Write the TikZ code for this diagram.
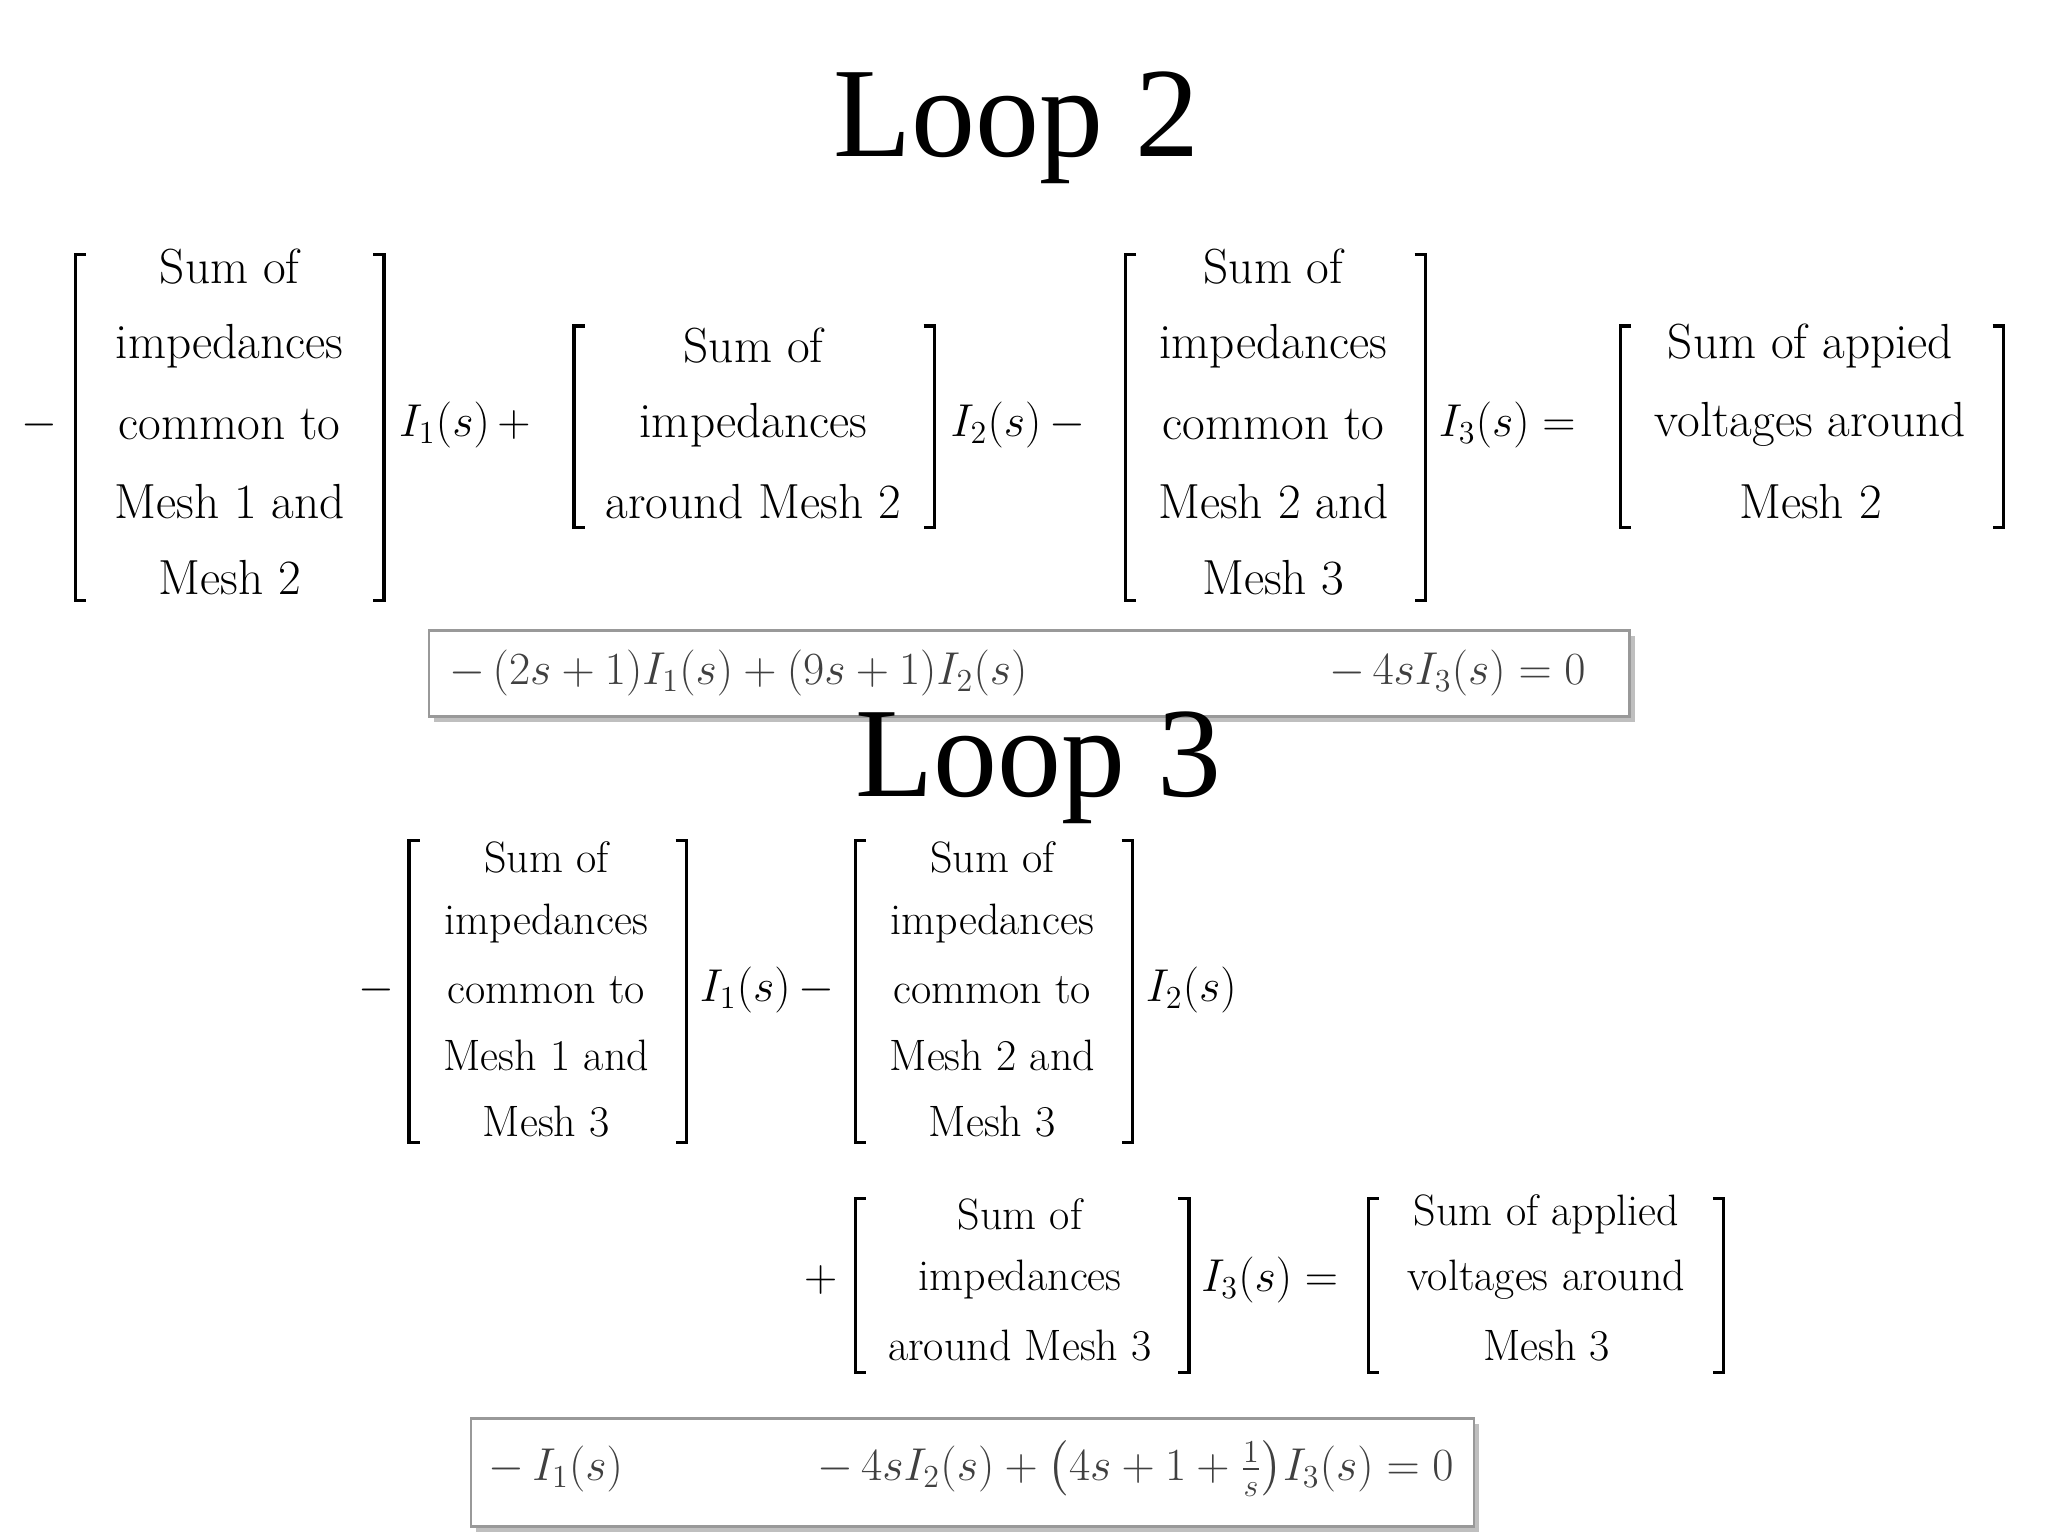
\documentclass[tikz,border=0pt]{standalone}
\usepackage{amsmath}
\usepackage{fontspec}
\newfontfamily\titlefont{Liberation Serif}
\begin{document}
\begin{tikzpicture}[x=0.495pt,y=-0.495pt,
  txtA/.style={font=\fontsize{18.5}{22}\selectfont, inner sep=0pt},
  txtB/.style={font=\fontsize{16.5}{20}\selectfont, inner sep=0pt},
  mth/.style={font=\fontsize{18.5}{22}\selectfont, inner sep=0pt},
  mthB/.style={font=\fontsize{16.5}{20}\selectfont, inner sep=0pt},
  eq/.style={font=\fontsize{17.5}{22}\selectfont, inner sep=0pt, text=black!75},
  ttl/.style={font=\titlefont\fontsize{48}{56}\selectfont, inner sep=0pt},
  brk/.style={line width=1.2pt},
  box/.style={draw=black!40, line width=1pt, fill=white}]
\useasboundingbox (0,0) rectangle (1552,1164);
\newcommand{\lbr}[3]{\draw[brk] (#1+8,#2) -- (#1,#2) -- (#1,#3) -- (#1+8,#3);}
\newcommand{\rbr}[3]{\draw[brk] (#1-8,#2) -- (#1,#2) -- (#1,#3) -- (#1-8,#3);}
% Loop 2
\node[ttl] (t2) at (770,97) {Loop 2};
\node[mth] (m1) at (30,322) {$-$};
\lbr{57}{193}{455}\rbr{291}{193}{455}
\node[txtA] (a1) at (174,202) {Sum of};
\node[txtA] (a2) at (174,262) {impedances};
\node[txtA] (a3) at (174,322) {common to};
\node[txtA] (a4) at (174,380) {Mesh 1 and};
\node[txtA] (a5) at (174,438) {Mesh 2};
\node[mth,anchor=west] (i1) at (302,322) {$I_1(s)\,+$};
\lbr{435}{247}{400}\rbr{708}{247}{400}
\node[txtA] (b1) at (571,262) {Sum of};
\node[txtA] (b2) at (571,322) {impedances};
\node[txtA] (b3) at (571,380) {around Mesh 2};
\node[mth,anchor=west] (i2) at (720,322) {$I_2(s)\,-$};
\lbr{853}{193}{455}\rbr{1080}{193}{455}
\node[txtA] (c1) at (965,202) {Sum of};
\node[txtA] (c2) at (965,262) {impedances};
\node[txtA] (c3) at (965,322) {common to};
\node[txtA] (c4) at (965,380) {Mesh 2 and};
\node[txtA] (c5) at (965,438) {Mesh 3};
\node[mth,anchor=west] (i3) at (1090,322) {$I_3(s)=$};
\lbr{1228}{247}{400}\rbr{1518}{247}{400}
\node[txtA] (d1) at (1372,262) {Sum of appied};
\node[txtA] (d2) at (1372,322) {voltages around};
\node[txtA] (d3) at (1372,380) {Mesh 2};
% box 1
\fill[black!25] (329,482) rectangle (1239,547);
\draw[box] (325,478) rectangle (1235,543);
\node[eq,anchor=west] (e1) at (340,510) {$-\,(2s+1)I_1(s)+(9s+1)I_2(s)$};
\node[eq,anchor=east] (e2) at (1202,510) {$-\,4sI_3(s)=0$};
% Loop 3
\node[ttl] (t3) at (787,582) {Loop 3};
\node[mthB] (m2) at (285,750) {$-$};
\lbr{310}{637}{866}\rbr{520}{637}{866}
\node[txtB] (f1) at (414,650) {Sum of};
\node[txtB] (f2) at (414,700) {impedances};
\node[txtB] (f3) at (414,750) {common to};
\node[txtB] (f4) at (414,800) {Mesh 1 and};
\node[txtB] (f5) at (414,850) {Mesh 3};
\node[mthB,anchor=west] (j1) at (530,750) {$I_1(s)\,-$};
\lbr{648}{637}{866}\rbr{858}{637}{866}
\node[txtB] (g1) at (752,650) {Sum of};
\node[txtB] (g2) at (752,700) {impedances};
\node[txtB] (g3) at (752,750) {common to};
\node[txtB] (g4) at (752,800) {Mesh 2 and};
\node[txtB] (g5) at (752,850) {Mesh 3};
\node[mthB,anchor=west] (j2) at (868,750) {$I_2(s)$};
\node[mthB] (p3) at (622,970) {$+$};
\lbr{648}{908}{1040}\rbr{901}{908}{1040}
\node[txtB] (h1) at (773,920) {Sum of};
\node[txtB] (h2) at (773,970) {impedances};
\node[txtB] (h3) at (773,1020) {around Mesh 3};
\node[mthB,anchor=west] (j3) at (910,970) {$I_3(s)=$};
\lbr{1037}{908}{1040}\rbr{1306}{908}{1040}
\node[txtB] (k1) at (1172,920) {Sum of applied};
\node[txtB] (k2) at (1172,970) {voltages around};
\node[txtB] (k3) at (1172,1020) {Mesh 3};
% box 2
\fill[black!25] (361,1079) rectangle (1121,1161);
\draw[box] (357,1075) rectangle (1117,1157);
\node[eq,anchor=west] (q1) at (370,1113) {$-\,I_1(s)$};
\node[eq,anchor=east] (q2) at (1102,1113) {$-\,4sI_2(s)+\bigl(4s+1+\tfrac{1}{s}\bigr)I_3(s)=0$};
\end{tikzpicture}
\end{document}
